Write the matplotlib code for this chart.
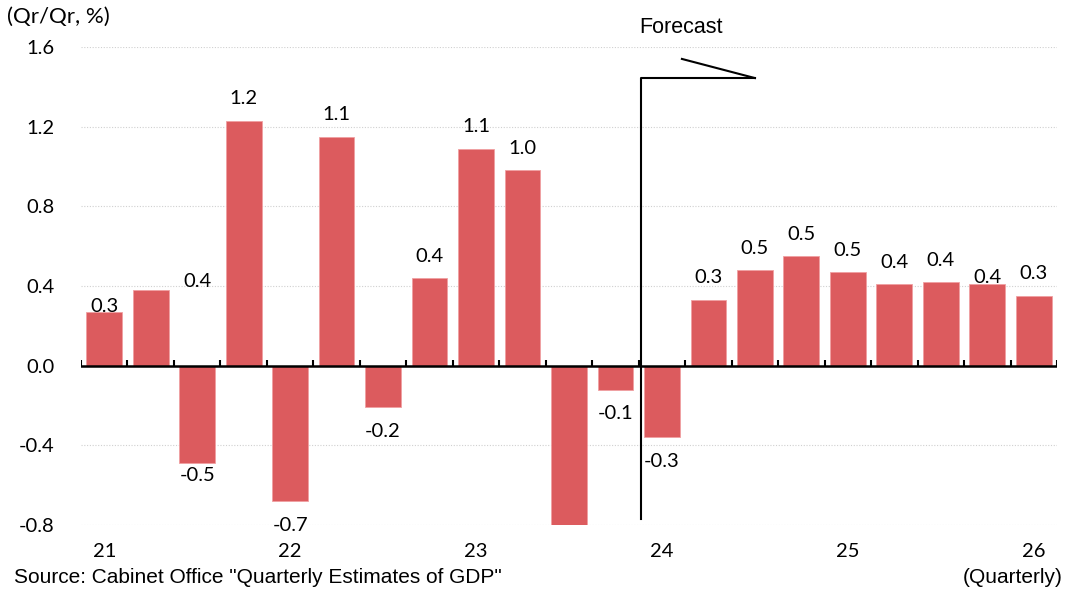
import matplotlib
matplotlib.use("Agg")
import matplotlib.pyplot as plt
import numpy as np

# Data
values = [0.27, 0.38, -0.49, 1.23, -0.68, 1.15, -0.21, 0.44, 1.09, 0.98, -0.95,
          -0.12, -0.36, 0.33, 0.48, 0.55, 0.47, 0.41, 0.42, 0.41, 0.35]
labels = ["0.3", "0.4", "-0.5", "1.2", "-0.7", "1.1", "-0.2", "0.4", "1.1", "1.0", "",
          "-0.1", "-0.3", "0.3", "0.5", "0.5", "0.5", "0.4", "0.4", "0.4", "0.3"]
year_labels = ["21", "22", "23", "24", "25", "26"]
yticks = [-0.8, -0.4, 0.0, 0.4, 0.8, 1.2, 1.6]

NUM_FONT = ["Lato", "DejaVu Sans"]
TXT_FONT = ["Liberation Sans", "DejaVu Sans"]
BAR_COLOR = "#DC5B5E"
FS_NUM = 14.5
FS_TXT = 15

fig = plt.figure(figsize=(10.68, 5.94), dpi=100)
ax = fig.add_axes([0.0758, 0.1162, 0.9139, 0.8047])

x = np.arange(len(values))
ax.bar(x, values, width=0.77, color=BAR_COLOR, edgecolor="#F0A0A2", linewidth=0.6, zorder=2)

ax.set_xlim(-0.5, len(values) - 0.5)
ax.set_ylim(-0.8, 1.6)

# grid
for yv in yticks:
    if yv != 0:
        ax.axhline(yv, color="#D0D0D0", lw=0.8, ls=(0, (1, 1.5)), zorder=0)
ax.axhline(0, color="black", lw=1.8, zorder=3)
ax.vlines(np.arange(-0.5, len(values), 1.0), 0, 0.03, color="black", lw=1.5, zorder=3)

for s in ax.spines.values():
    s.set_visible(False)

ax.set_yticks(yticks)
ax.set_yticklabels([f"{v:.1f}" for v in yticks], fontfamily=NUM_FONT, fontsize=FS_NUM)
ax.tick_params(axis="y", length=0, pad=19)
ax.set_xticks(x[::4])
ax.set_xticklabels(year_labels, fontfamily=NUM_FONT, fontsize=FS_NUM)
ax.tick_params(axis="x", length=0, pad=13)

# data labels (offsets in points from bar end to label centre, as in the original)
label_dx = {1: 1.0}
pos_off = {0: 4, 19: 5}
neg_off = {2: 8.6}
for i, (v, t) in enumerate(zip(values, labels)):
    if not t:
        continue
    xi = i + label_dx.get(i, 0)
    if i == 1:
        ax.annotate(t, (xi, 0.42), xytext=(0, 0), textcoords="offset points",
                    ha="center", va="center", fontfamily=NUM_FONT, fontsize=FS_NUM, zorder=4)
    elif v >= 0:
        ax.annotate(t, (xi, v), xytext=(0, pos_off.get(i, 15.8)), textcoords="offset points",
                    ha="center", va="center", fontfamily=NUM_FONT, fontsize=FS_NUM,
                    zorder=4, annotation_clip=False)
    else:
        ax.annotate(t, (xi, v), xytext=(0, -neg_off.get(i, 17.3)), textcoords="offset points",
                    ha="center", va="center", fontfamily=NUM_FONT, fontsize=FS_NUM,
                    zorder=4, annotation_clip=False)

# forecast marker
ax.plot([11.55, 11.55, 14.0], [-0.77, 1.444, 1.444], color="black", lw=1.5,
        clip_on=False, zorder=5)
ax.plot([12.43, 14.0], [1.54, 1.444], color="black", lw=1.5, clip_on=False, zorder=5)
ax.text(12.4, 1.70, "Forecast", ha="center", va="center", fontfamily=TXT_FONT,
        fontsize=15.5, clip_on=False)

fig.text(0.007, 0.971, "(Qr/Qr, %)", ha="left", va="center", fontfamily=NUM_FONT, fontsize=16)
fig.text(0.013, 0.027, 'Source: Cabinet Office "Quarterly Estimates of GDP"', ha="left",
         va="center", fontfamily=TXT_FONT, fontsize=FS_TXT)
fig.text(0.995, 0.027, "(Quarterly)", ha="right", va="center", fontfamily=TXT_FONT, fontsize=FS_TXT)

fig.savefig("out.png", dpi=100)
